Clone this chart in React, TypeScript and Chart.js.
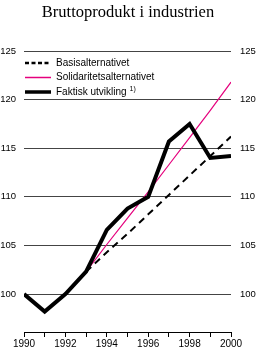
import React, { useEffect, useRef } from "react";
import { Chart, registerables } from "chart.js";

Chart.register(...registerables);

const years = [1990, 1991, 1992, 1993, 1994, 1995, 1996, 1997, 1998, 1999, 2000];
const faktisk = [100, 98.2, 100, 102.3, 106.6, 108.8, 110, 115.7, 117.5, 114.0, 114.2];
const basis = [null, null, null, 102.3, 104.3, 106.2, 108.2, 110.2, 112.2, 114.2, 116.2];
const solidaritet = [null, null, null, 102.3, 105.1, 107.8, 110.5, 113.3, 116.1, 118.9, 121.8];
const yTicks = [100, 105, 110, 115, 120, 125];
const title = "Bruttoprodukt i industrien";
const seriesNames = ["Basisalternativet", "Solidaritetsalternativet", "Faktisk utvikling"];
const footnote = "1)";

const SANS = "'Liberation Sans', Arial, Helvetica, sans-serif";
const MAGENTA = "#e5007d";

const toPoints = (vals: (number | null)[]) =>
  years.map((y, i) => ({ x: y, y: vals[i] }));

const legendPlugin = {
  id: "insideLegend",
  afterDraw(chart: any) {
    const ctx = chart.ctx;
    const rows = [
      { label: seriesNames[0], color: "#000", width: 2.5, dash: [4, 2.5] },
      { label: seriesNames[1], color: MAGENTA, width: 1.5, dash: [] },
      { label: seriesNames[2], color: "#000", width: 3.5, dash: [] },
    ];
    const ys = [63, 77.5, 92];
    ctx.save();
    rows.forEach((r, i) => {
      ctx.beginPath();
      ctx.setLineDash(r.dash);
      ctx.lineWidth = r.width;
      ctx.strokeStyle = r.color;
      ctx.moveTo(25, ys[i]);
      ctx.lineTo(51, ys[i]);
      ctx.stroke();
      ctx.setLineDash([]);
      ctx.fillStyle = "#000";
      ctx.font = `10px ${SANS}`;
      ctx.textBaseline = "middle";
      ctx.textAlign = "left";
      ctx.fillText(r.label, 56, ys[i]);
      if (i === 2) {
        const w = ctx.measureText(r.label).width;
        ctx.font = `7px ${SANS}`;
        ctx.fillText(footnote, 56 + w + 3, ys[i] - 3);
      }
    });
    ctx.restore();
  },
};

export default function App() {
  const ref = useRef<HTMLCanvasElement | null>(null);

  useEffect(() => {
    if (!ref.current) return;
    const setTicks = (scale: any) => {
      scale.ticks = yTicks.map((v) => ({ value: v }));
    };
    const chart = new Chart(ref.current, {
      type: "line",
      data: {
        datasets: [
          {
            label: seriesNames[0],
            data: toPoints(basis),
            borderColor: "#000",
            borderWidth: 2,
            borderDash: [7, 5],
            pointRadius: 0,
            fill: false,
            order: 2,
          },
          {
            label: seriesNames[1],
            data: toPoints(solidaritet),
            borderColor: MAGENTA,
            borderWidth: 1.2,
            pointRadius: 0,
            fill: false,
            order: 1,
          },
          {
            label: seriesNames[2],
            data: toPoints(faktisk),
            borderColor: "#000",
            borderWidth: 4,
            borderJoinStyle: "miter",
            pointRadius: 0,
            fill: false,
            order: 0,
          },
        ] as any,
      },
      options: {
        animation: false,
        responsive: false,
        devicePixelRatio: 1,
        spanGaps: false,
        layout: { padding: 0 },
        plugins: {
          legend: { display: false },
          tooltip: { enabled: false },
          title: {
            display: true,
            text: title,
            color: "#000",
            font: { family: "'Liberation Serif', 'Times New Roman', serif", size: 16.5, weight: "normal", lineHeight: 1.2 },
            padding: { top: 3, bottom: 28.2 },
          },
        },
        scales: {
          x: {
            type: "linear",
            min: 1990,
            max: 2000,
            afterFit: (s: any) => {
              s.height = 18;
            },
            ticks: {
              stepSize: 1,
              autoSkip: false,
              maxRotation: 0,
              padding: 1,
              color: "#000",
              font: { family: SANS, size: 10 },
              callback: (v: any) => (Number(v) % 2 === 0 ? String(v) : ""),
            },
            grid: {
              drawOnChartArea: false,
              drawTicks: true,
              tickLength: 5,
              color: "#000",
            },
            border: { display: true, color: "#000", width: 1 },
          },
          y: {
            type: "linear",
            position: "left",
            min: 96.1,
            max: 125,
            afterBuildTicks: setTicks,
            afterFit: (s: any) => {
              s.width = 24;
            },
            ticks: {
              padding: 8,
              color: "#000",
              font: { family: SANS, size: 9.5 },
            },
            grid: { color: "#444", drawTicks: false, lineWidth: 1 },
            border: { display: false },
          },
          y2: {
            type: "linear",
            position: "right",
            min: 96.1,
            max: 125,
            afterBuildTicks: setTicks,
            afterFit: (s: any) => {
              s.width = 25;
            },
            ticks: {
              padding: 9,
              color: "#000",
              font: { family: SANS, size: 9.5 },
            },
            grid: { display: false, drawTicks: false },
            border: { display: false },
          },
        },
      } as any,
      plugins: [legendPlugin],
    });
    return () => chart.destroy();
  }, []);

  return (
    <div style={{ position: "absolute", left: 0, top: 0, width: 256, height: 350, background: "#fff" }}>
      <canvas ref={ref} width={256} height={350} style={{ width: 256, height: 350, display: "block" }} />
    </div>
  );
}
